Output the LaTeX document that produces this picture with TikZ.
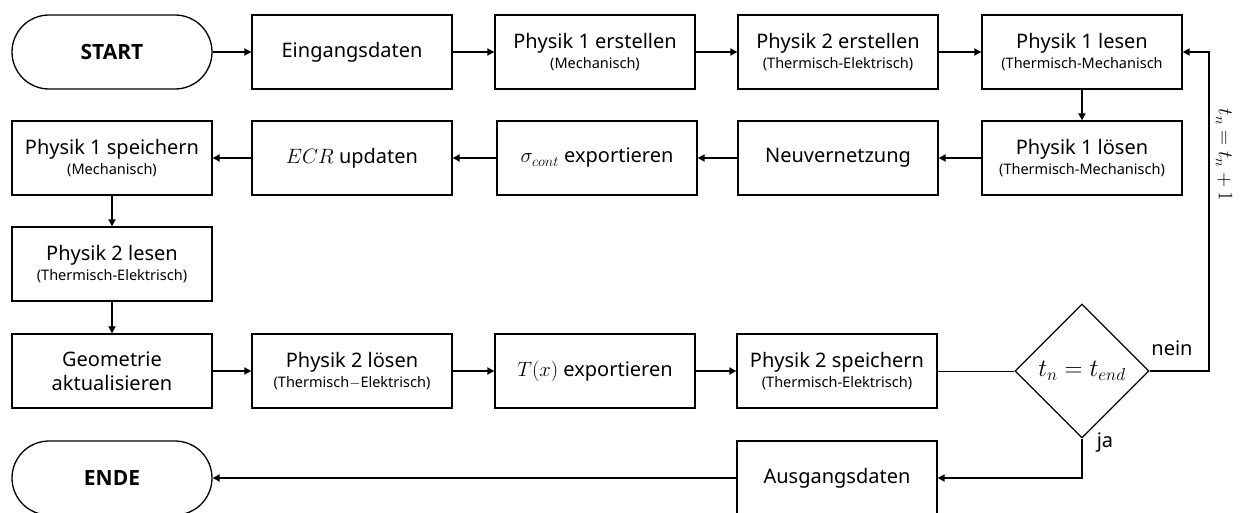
\documentclass[tikz,border=0pt]{standalone}
\usepackage{fontspec}
\setmainfont{Noto Sans}
\newfontfamily\termfont{Open Sans}
\usetikzlibrary{shapes.misc,shapes.geometric,arrows.meta}

\newcommand{\subtxt}[1]{\\[-4pt]{\fontsize{14.5}{16}\selectfont #1}}

\begin{document}
\begin{tikzpicture}[x=1pt,y=-1pt,
  box/.style={draw, line width=1.3pt, minimum width=200pt, minimum height=74pt,
    inner sep=0pt, align=center, font=\fontsize{20}{24}\selectfont},
  term/.style={box, rounded rectangle, font=\fontsize{21}{24}\selectfont\termfont\bfseries},
  decision/.style={draw, line width=1.3pt, diamond, minimum width=134pt,
    minimum height=134pt, inner sep=0pt, font=\fontsize{25}{28}\selectfont},
  flow/.style={line width=1.8pt, -{Triangle[length=7pt,width=7pt]}},
  plain/.style={line width=1pt},
  lbl/.style={font=\fontsize{20}{24}\selectfont, inner sep=0pt}]

\clip (0,0) rectangle (1244,513);
\fill[white] (0,0) rectangle (1244,513);

% first row
\node[term] (start) at (112,52) {START};
\node[box] (eing) at (352,52) {Eingangsdaten};
\node[box] (p1e) at (595,52) {Physik 1 erstellen\subtxt{(Mechanisch)}};
\node[box] (p2e) at (838,52) {Physik 2 erstellen\subtxt{(Thermisch-Elektrisch)}};
\node[box] (p1l) at (1082,52) {Physik 1 lesen\subtxt{(Thermisch-Mechanisch}};

% second row
\node[box] (p1s) at (112,158) {Physik 1 speichern\subtxt{(Mechanisch)}};
\node[box] (ecr) at (352,158) {$ECR$ updaten};
\node[box] (sig) at (597,158) {$\sigma_{cont}$ exportieren};
\node[box] (neu) at (838,158) {Neuvernetzung};
\node[box] (p1lo) at (1082,158) {Physik 1 lösen\subtxt{(Thermisch-Mechanisch)}};

% third row
\node[box] (p2l) at (112,264) {Physik 2 lesen\subtxt{(Thermisch-Elektrisch)}};

% fourth row
\node[box] (geo) at (112,371) {Geometrie\\aktualisieren};
\node[box] (p2lo) at (352,371) {Physik 2 lösen\subtxt{(Thermisch$-$Elektrisch)}};
\node[box] (tx) at (595,371) {$T(x)$ exportieren};
\node[box] (p2s) at (837,371) {Physik 2 speichern\subtxt{(Thermisch-Elektrisch)}};
\node[decision] (dia) at (1082,371) {$t_n = t_{end}$};

% fifth row
\node[term] (ende) at (112,478) {ENDE};
\node[box] (ausg) at (837,478) {Ausgangsdaten};

% connectors
\draw[flow] (start) -- (eing);
\draw[flow] (eing) -- (p1e);
\draw[flow] (p1e) -- (p2e);
\draw[flow] (p2e) -- (p1l);
\draw[flow] (p1l) -- (p1lo);
\draw[flow] (p1lo) -- (neu);
\draw[flow] (neu) -- (sig);
\draw[flow] (sig) -- (ecr);
\draw[flow] (ecr) -- (p1s);
\draw[flow] (p1s) -- (p2l);
\draw[flow] (p2l) -- (geo);
\draw[flow] (geo) -- (p2lo);
\draw[flow] (p2lo) -- (tx);
\draw[flow] (tx) -- (p2s);
\draw[plain] (p2s) -- (dia);

\coordinate (loop) at (1209,371);
\draw[flow] (dia.east) -- (loop) |- (p1l.east);
\draw[flow] (dia.south) |- (ausg.east);
\draw[flow] (ausg) -- (ende);

% labels
\node[lbl] (nein) at (1172,348) {nein};
\node[lbl] (ja) at (1105,443) {ja};
\node[lbl, rotate=-90] (incr) at (1224,155) {$t_n = t_n + 1$};
\end{tikzpicture}
\end{document}
